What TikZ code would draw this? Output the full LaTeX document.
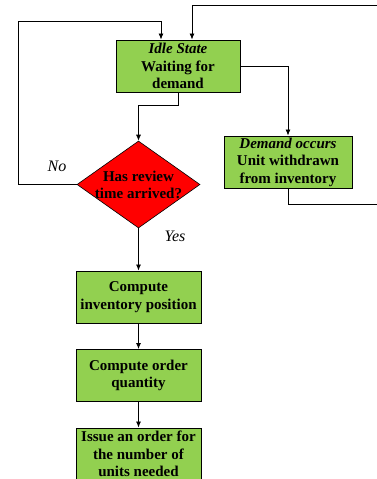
\documentclass[tikz,border=0pt]{standalone}
\usepackage{fontspec}
\setmainfont{Liberation Serif}
\usetikzlibrary{shapes.geometric,arrows.meta}
\definecolor{boxgreen}{HTML}{92D050}
\definecolor{decred}{HTML}{FF0000}
\tikzset{
  procbox/.style={draw=black, line width=0.9bp, fill=boxgreen, minimum width=125bp, minimum height=52bp, inner sep=0pt, align=center, font=\fontsize{15bp}{17.5bp}\selectfont\bfseries},
  decbox/.style={draw=black, line width=0.6bp, fill=decred, diamond, minimum width=123bp, minimum height=87bp, aspect=1.41, inner sep=0pt},
  dectext/.style={align=center, font=\fontsize{15bp}{17.5bp}\selectfont\bfseries, inner sep=0pt},
  arr/.style={draw=black, line width=0.8bp, -{Latex[length=6bp,width=5bp]}},
  lab/.style={font=\fontsize{16bp}{18bp}\selectfont\itshape, inner sep=0pt}
}
\begin{document}
\begin{tikzpicture}[x=1bp,y=-1bp]
\useasboundingbox (0,0) rectangle (376,479);
\node[procbox, minimum width=124bp] (idle) at (178,66) {\textit{Idle State}\\Waiting for\\demand};
\node[procbox, minimum width=128bp] (demand) at (288,162) {\textit{Demand occurs}\\Unit withdrawn\\from inventory};
\node[decbox] (dia) at (138.5,184.5) {};
\node[dectext] (diatext) at (138.5,185) {Has review\\time arrived?};
\node[procbox] (pos) at (138.5,297) {Compute\\inventory position};
\node[procbox] (qty) at (138.5,375.5) {Compute order\\quantity};
\node[procbox] (issue) at (138.5,454) {Issue an order for\\the number of\\units needed};
\node[lab] (no) at (57,166) {No};
\node[lab] (yes) at (175,236) {Yes};
\draw[arr] (idle.south) -- ++(0,13) -| (dia.north);
\draw[arr] (idle.east) -| (demand.north);
\draw[arr] (dia.west) -| (18,21) -| ([xshift=-17bp]idle.north);
\draw[arr] (demand.south) |- (382,204) -- (382,5) -| ([xshift=14bp]idle.north);
\draw[arr] (dia.south) -- (pos.north);
\draw[arr] (pos.south) -- (qty.north);
\draw[arr] (qty.south) -- (issue.north);
\end{tikzpicture}
\end{document}
